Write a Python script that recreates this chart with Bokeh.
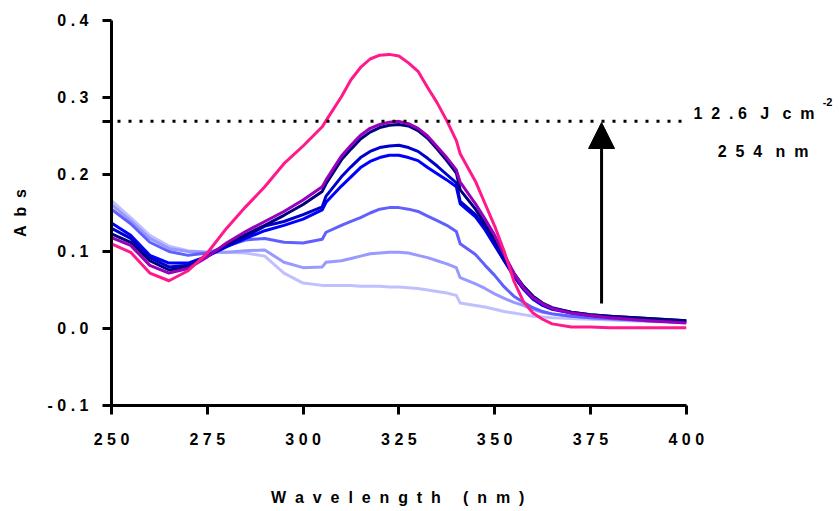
from bokeh.plotting import figure
from bokeh.models import FixedTicker, Arrow, NormalHead, Label, Range1d
from bokeh.embed import file_html
from bokeh.resources import INLINE

# ---------------- data ----------------
wavelength = [250, 255, 260, 265, 270, 275, 280, 285, 290, 295, 300,
              305, 306,
              310, 312.5, 315, 317.5, 320, 322.5, 325, 327.5, 330, 332.5, 335, 337.5, 340,
              341, 345, 347.5, 350, 352.5, 355, 357.5, 360, 362.5, 365,
              370, 375, 380, 390, 400]

abs_1 = [0.166, 0.144, 0.121, 0.107, 0.101, 0.099, 0.099, 0.098, 0.094, 0.072, 0.059,
         0.056, 0.056,
         0.056, 0.056, 0.055, 0.055, 0.055, 0.054, 0.054, 0.053, 0.052, 0.050, 0.048, 0.046, 0.043,
         0.033, 0.030, 0.028, 0.025, 0.022, 0.020, 0.018, 0.016, 0.015, 0.014,
         0.013, 0.012, 0.011, 0.009, 0.008]
abs_2 = [0.161, 0.140, 0.117, 0.104, 0.100, 0.099, 0.099, 0.101, 0.102, 0.086, 0.079,
         0.080, 0.086,
         0.088, 0.091, 0.094, 0.097, 0.098, 0.099, 0.099, 0.098, 0.095, 0.092, 0.088, 0.084, 0.079,
         0.066, 0.058, 0.052, 0.045, 0.039, 0.034, 0.030, 0.025, 0.021, 0.019,
         0.016, 0.014, 0.012, 0.010, 0.008]
abs_3 = [0.155, 0.136, 0.112, 0.100, 0.095, 0.098, 0.107, 0.115, 0.117, 0.112, 0.111,
         0.116, 0.125,
         0.134, 0.139, 0.144, 0.150, 0.155, 0.157, 0.157, 0.155, 0.152, 0.146, 0.140, 0.134, 0.126,
         0.110, 0.096, 0.082, 0.069, 0.054, 0.042, 0.034, 0.027, 0.022, 0.019,
         0.016, 0.014, 0.013, 0.010, 0.008]
abs_4 = [0.137, 0.121, 0.095, 0.085, 0.085, 0.094, 0.106, 0.117, 0.127, 0.134, 0.142,
         0.154, 0.164,
         0.185, 0.197, 0.209, 0.217, 0.222, 0.225, 0.225, 0.222, 0.218, 0.209, 0.201, 0.193, 0.184,
         0.162, 0.145, 0.128, 0.108, 0.088, 0.068, 0.051, 0.038, 0.030, 0.025,
         0.020, 0.017, 0.015, 0.012, 0.009]
abs_5 = [0.130, 0.117, 0.092, 0.080, 0.082, 0.094, 0.107, 0.119, 0.133, 0.139, 0.148,
         0.158, 0.172,
         0.197, 0.210, 0.222, 0.230, 0.235, 0.237, 0.238, 0.235, 0.230, 0.221, 0.211, 0.200, 0.189,
         0.165, 0.148, 0.131, 0.110, 0.088, 0.068, 0.052, 0.040, 0.032, 0.026,
         0.021, 0.018, 0.016, 0.013, 0.010]
abs_6 = [0.123, 0.112, 0.088, 0.076, 0.080, 0.094, 0.109, 0.122, 0.134, 0.147, 0.161,
         0.178, 0.188,
         0.219, 0.233, 0.246, 0.255, 0.261, 0.264, 0.265, 0.263, 0.257, 0.247, 0.233, 0.218, 0.202,
         0.180, 0.155, 0.136, 0.116, 0.093, 0.072, 0.055, 0.042, 0.033, 0.027,
         0.021, 0.018, 0.016, 0.013, 0.010]
abs_7 = [0.118, 0.108, 0.082, 0.072, 0.078, 0.093, 0.111, 0.126, 0.139, 0.152, 0.167,
         0.184, 0.193,
         0.224, 0.238, 0.251, 0.260, 0.265, 0.268, 0.269, 0.266, 0.260, 0.250, 0.236, 0.222, 0.206,
         0.190, 0.162, 0.142, 0.121, 0.096, 0.072, 0.053, 0.040, 0.032, 0.026,
         0.020, 0.017, 0.014, 0.010, 0.007]
abs_8 = [0.110, 0.099, 0.072, 0.062, 0.075, 0.098, 0.130, 0.158, 0.184, 0.214, 0.237,
         0.262, 0.270,
         0.301, 0.323, 0.339, 0.350, 0.355, 0.356, 0.354, 0.345, 0.334, 0.313, 0.293, 0.270, 0.244,
         0.227, 0.191, 0.162, 0.133, 0.100, 0.062, 0.035, 0.020, 0.012, 0.006,
         0.002, 0.002, 0.001, 0.001, 0.001]

series = [abs_1, abs_2, abs_3, abs_4, abs_5, abs_6, abs_7, abs_8]
colors = ["#c0c0ff", "#9999ff", "#6060ff", "#0000ff", "#0000cc", "#000080",
          "#9900bb", "#ff1a8c"]

x_tick_values = [250, 275, 300, 325, 350, 375, 400]
x_tick_labels = ["2 5 0", "2 7 5", "3 0 0", "3 2 5", "3 5 0", "3 7 5", "4 0 0"]
y_tick_values = [-0.1, 0.0, 0.1, 0.2, 0.3, 0.4]
y_tick_labels = ["- 0 . 1", "0 . 0", "0 . 1", "0 . 2", "0 . 3", "0 . 4"]

threshold = 0.269            # dotted reference level
dotted_x = [250, 400.6]
arrow_x = 377.9
arrow_y0, arrow_y1 = 0.0325, 0.2675

NB = "\u00a0"
FONT = "Liberation Sans"

p = figure(width=839, height=511,
           x_range=Range1d(250, 440), y_range=Range1d(-0.1, 0.4),
           output_backend="svg", toolbar_location=None,
           min_border_left=111, min_border_right=0,
           min_border_top=20, min_border_bottom=106)

for ys, c in zip(series, colors):
    p.line(wavelength, ys, line_color=c, line_width=3, line_join="round")

p.line(dotted_x, [threshold, threshold], line_color="black", line_width=3,
       line_dash="3 8", line_dash_offset=-6)

p.add_layout(Arrow(x_start=arrow_x, y_start=arrow_y0, x_end=arrow_x, y_end=arrow_y1,
                   line_width=3, line_color="black",
                   end=NormalHead(size=26, fill_color="black", line_color="black")))

t1 = "1" + NB + " 2" + NB + " ." + NB + "6" + NB + NB + " J" + NB + NB + " c" + NB + " m"
t2 = "2" + NB + " 5" + NB + " 4" + NB + NB + " n" + NB + " m"
p.add_layout(Label(x=401.9, y=0.279, text=t1, text_font=FONT, text_color="black",
                   text_font_style="bold", text_font_size="16px",
                   text_baseline="middle", text_align="left"))
p.add_layout(Label(x=435.6, y=0.294, text="-2", text_font=FONT, text_color="black",
                   text_font_style="bold", text_font_size="11px",
                   text_baseline="middle", text_align="left"))
p.add_layout(Label(x=408.2, y=0.230, text=t2, text_font=FONT, text_color="black",
                   text_font_style="bold", text_font_size="16px",
                   text_baseline="middle", text_align="left"))

p.xaxis.ticker = FixedTicker(ticks=x_tick_values)
p.xaxis.major_label_overrides = dict(zip(x_tick_values, x_tick_labels))
p.xaxis.bounds = (x_tick_values[0], x_tick_values[-1])
p.yaxis.ticker = FixedTicker(ticks=y_tick_values + [threshold])
ov = dict(zip(y_tick_values, y_tick_labels))
ov[threshold] = ""
p.yaxis.major_label_overrides = ov

for ax in (p.xaxis[0], p.yaxis[0]):
    ax.axis_line_width = 3
    ax.axis_line_color = "black"
    ax.major_tick_line_width = 3
    ax.major_tick_line_color = "black"
    ax.major_tick_out = 9
    ax.major_tick_in = 0
    ax.minor_tick_line_color = None
    ax.major_label_text_font = FONT
    ax.major_label_text_font_style = "bold"
    ax.major_label_text_font_size = "16px"
    ax.major_label_text_color = "black"
    ax.axis_label_text_font = FONT
    ax.axis_label_text_font_style = "bold"
    ax.axis_label_text_font_size = "16px"
    ax.axis_label_text_color = "black"

# the x title is centred under the 250-400 axis (not the wider frame):
# right-hand padding with no-break spaces shifts the centred text left
title_chars = list("Wavelength") + [NB] + list("(nm)")
p.xaxis.axis_label = (NB + " ").join(title_chars) + NB * 35
p.yaxis.axis_label = "A" + NB + " b" + NB + " s"
p.xaxis.major_label_standoff = 16
p.xaxis.axis_label_standoff = 38
p.yaxis.major_label_standoff = 14
p.yaxis.axis_label_standoff = 16

p.grid.visible = False
p.outline_line_color = None
p.background_fill_color = "white"
p.border_fill_color = "white"

open("out.html", "w").write(file_html(p, INLINE))
